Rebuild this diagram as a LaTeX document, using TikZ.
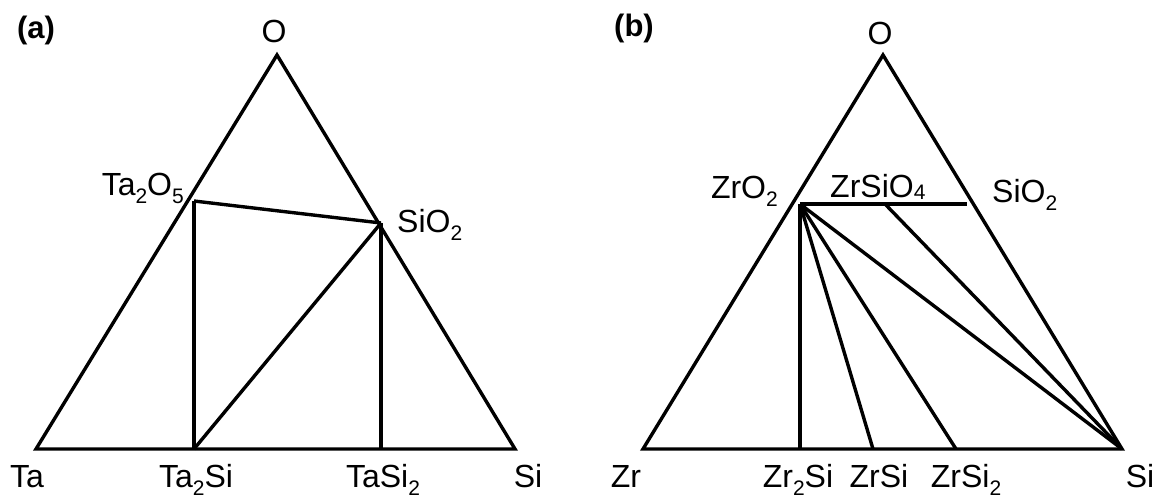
\documentclass[tikz,border=0pt]{standalone}
\usepackage{fontspec}
\setmainfont{Liberation Sans}
\newcommand\subs[1]{\raisebox{-0.27em}{\fontsize{21}{21}\selectfont #1}}
\newcommand\subshi[1]{\raisebox{-2.7pt}{\fontsize{21}{21}\selectfont #1}}
\begin{document}
\begin{tikzpicture}[x=1pt,y=-1pt,
  edge/.style={line width=3.4pt,line join=miter,line cap=rect},
  tie/.style={line width=3.4pt,line cap=butt},
  lbl/.style={inner sep=0pt,font=\fontsize{32}{38}\selectfont},
  panel/.style={inner sep=0pt,font=\fontsize{31}{37}\selectfont\bfseries}]
\useasboundingbox (0,0) rectangle (1166,500);
% ---------- panel (a) ----------
\coordinate (aO) at (277,55);
\coordinate (aTa) at (36,449);
\coordinate (aSi) at (515,449);
\coordinate (aTa2O5) at (194,201);
\coordinate (aSiO2) at (381,223);
\coordinate (aTa2Si) at (194,449);
\coordinate (aTaSi2) at (381,449);
\draw[edge] (aTa) -- (aO) -- (aSi) -- cycle;
\draw[tie] (aTa2O5) -- (aSiO2);
\draw[tie] (aTa2O5) -- (aTa2Si);
\draw[tie] (aTa2Si) -- (aSiO2);
\draw[tie] (aSiO2) -- (aTaSi2);
\node[panel] (la) at (36,30) {(a)};
\node[lbl,anchor=base] (laO) at (274,43) {O};
\node[lbl,anchor=base east] (laTa2O5) at (184,195) {Ta\subs{2}O\subs{5}};
\node[lbl,anchor=base west] (laSiO2) at (397,232) {SiO\subs{2}};
\node[lbl,anchor=base] (laTa) at (27,487) {Ta};
\node[lbl,anchor=base] (laTa2Si) at (196,487) {Ta\subs{2}Si};
\node[lbl,anchor=base] (laTaSi2) at (383,487) {TaSi\subs{2}};
\node[lbl,anchor=base] (laSi) at (528,487) {Si};
% ---------- panel (b) ----------
\coordinate (bO) at (883,55);
\coordinate (bZr) at (643,449);
\coordinate (bSi) at (1122,449);
\coordinate (bZrO2) at (800,204);
\coordinate (bZrSiO4) at (885,204);
\coordinate (bSiO2) at (967,204);
\coordinate (bZr2Si) at (800,449);
\coordinate (bZrSi) at (873,449);
\coordinate (bZrSi2) at (956,449);
\draw[edge] (bZr) -- (bO) -- (bSi) -- cycle;
\draw[tie] (bZrO2) -- (bSiO2);
\draw[tie] (bZrO2) -- (bZr2Si);
\draw[tie] (bZrO2) -- (bZrSi);
\draw[tie] (bZrO2) -- (bZrSi2);
\draw[tie] (bZrO2) -- (bSi);
\draw[tie] (bZrSiO4) -- (bSi);
\node[panel] (lb) at (634,28) {(b)};
\node[lbl,anchor=base] (lbO) at (880,45) {O};
\node[lbl,anchor=base east] (lbZrO2) at (778,198) {ZrO\subs{2}};
\node[lbl,anchor=base west] (lbZrSiO4) at (830,197) {ZrSiO\subshi{4}};
\node[lbl,anchor=base west] (lbSiO2) at (992,202) {SiO\subs{2}};
\node[lbl,anchor=base] (lbZr) at (626,487) {Zr};
\node[lbl,anchor=base] (lbZr2Si) at (798,487) {Zr\subs{2}Si};
\node[lbl,anchor=base] (lbZrSi) at (879,487) {ZrSi};
\node[lbl,anchor=base] (lbZrSi2) at (966,487) {ZrSi\subs{2}};
\node[lbl,anchor=base] (lbSi) at (1140,487) {Si};
\end{tikzpicture}
\end{document}
